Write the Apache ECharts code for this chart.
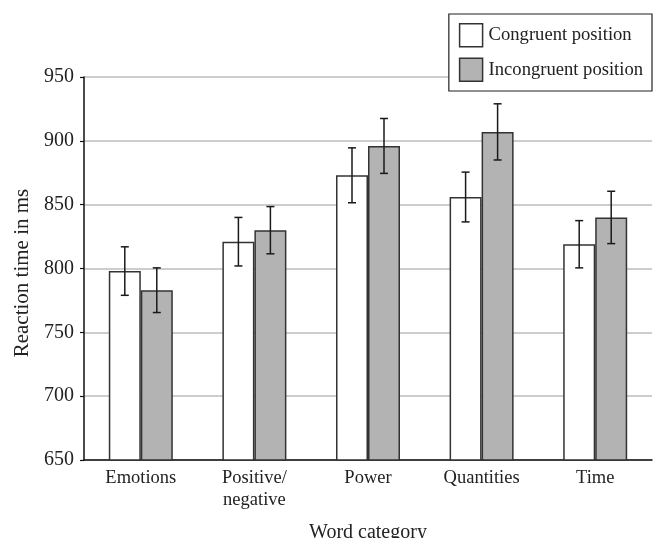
<!DOCTYPE html>
<html><head><meta charset="utf-8">
<script src="https://cdn.jsdelivr.net/npm/echarts@6/dist/echarts.min.js"></script>
<style>html,body{margin:0;padding:0;background:#fff}#c{width:656px;height:538px}</style>
</head><body><div id="c"></div>
<script>
const categories = ['Emotions', 'Positive/\nnegative', 'Power', 'Quantities', 'Time'];
const seriesNames = ['Congruent position', 'Incongruent position'];
const congruent = [798, 821, 873, 856, 819];
const incongruent = [783, 830, 896, 907, 840];
const congruentErr = [19, 19, 21.5, 19.5, 18.5];
const incongruentErr = [17.5, 18.5, 21.5, 22, 20.5];
const yTicks = [650, 700, 750, 800, 850, 900, 950];

const FONT = '"Liberation Serif", "DejaVu Serif", serif';
const BAR_W = 32;
const chart = echarts.init(document.getElementById('c'), null, {renderer: 'canvas'});

function errSeries(name, vals, errs, offset) {
  return {
    type: 'custom',
    name: name + ' error',
    z: 5,
    data: vals.map((v, i) => [i, v - errs[i], v + errs[i]]),
    renderItem: function (params, api) {
      const lo = api.coord([api.value(0), api.value(1)]);
      const hi = api.coord([api.value(0), api.value(2)]);
      const x = lo[0] + offset;
      const cap = 4;
      const st = {stroke: '#1a1a1a', lineWidth: 1.5};
      return {type: 'group', children: [
        {type: 'line', shape: {x1: x, y1: lo[1], x2: x, y2: hi[1]}, style: st},
        {type: 'line', shape: {x1: x - cap, y1: lo[1], x2: x + cap, y2: lo[1]}, style: st},
        {type: 'line', shape: {x1: x - cap, y1: hi[1], x2: x + cap, y2: hi[1]}, style: st}
      ]};
    },
    silent: true
  };
}

chart.setOption({
  animation: false,
  backgroundColor: '#fff',
  textStyle: {fontFamily: FONT, color: '#222'},
  grid: {left: 84, right: 4, top: 77, bottom: 78, containLabel: false, outerBoundsMode: 'none'},
  legend: {
    data: seriesNames,
    orient: 'vertical',
    right: 4, top: 14,
    padding: [9, 9, 9, 10],
    itemGap: 10,
    itemWidth: 23, itemHeight: 23,
    icon: 'rect',
    backgroundColor: '#fff',
    borderColor: '#222', borderWidth: 1.2,
    textStyle: {fontFamily: FONT, fontSize: 18.6, color: '#222', lineHeight: 23, padding: [0, 0, 0, 1]},
    itemStyle: {borderColor: '#333', borderWidth: 1.5},
    z: 10
  },
  xAxis: {
    type: 'category',
    data: categories,
    name: 'Word category',
    nameLocation: 'middle',
    nameGap: 63,
    nameTextStyle: {fontFamily: FONT, fontSize: 20, color: '#222'},
    axisLine: {lineStyle: {color: '#111', width: 1.5}},
    axisTick: {show: false},
    axisLabel: {fontFamily: FONT, fontSize: 18.5, color: '#222', lineHeight: 22, margin: 7, interval: 0}
  },
  yAxis: {
    type: 'value',
    min: yTicks[0], max: yTicks[yTicks.length - 1], interval: 50,
    name: 'Reaction time in ms',
    nameLocation: 'middle',
    nameGap: 49,
    nameTextStyle: {fontFamily: FONT, fontSize: 21, color: '#222', padding: [0, 9, 0, 0]},
    axisLine: {show: true, lineStyle: {color: '#111', width: 1.5}},
    axisTick: {show: true, length: 4, lineStyle: {color: '#111', width: 1.2}},
    axisLabel: {fontFamily: FONT, fontSize: 20, color: '#222', margin: 10},
    splitLine: {lineStyle: {color: '#bdbdbd', width: 1.5}}
  },
  series: [
    {type: 'bar', name: seriesNames[0], data: congruent, barWidth: BAR_W, barGap: '0%',
     itemStyle: {color: '#ffffff', borderColor: '#333', borderWidth: 1.5}},
    {type: 'bar', name: seriesNames[1], data: incongruent, barWidth: BAR_W, barGap: '0%',
     itemStyle: {color: '#b3b3b3', borderColor: '#333', borderWidth: 1.5}},
    errSeries(seriesNames[0], congruent, congruentErr, -BAR_W / 2),
    errSeries(seriesNames[1], incongruent, incongruentErr, BAR_W / 2)
  ]
});
</script></body></html>
